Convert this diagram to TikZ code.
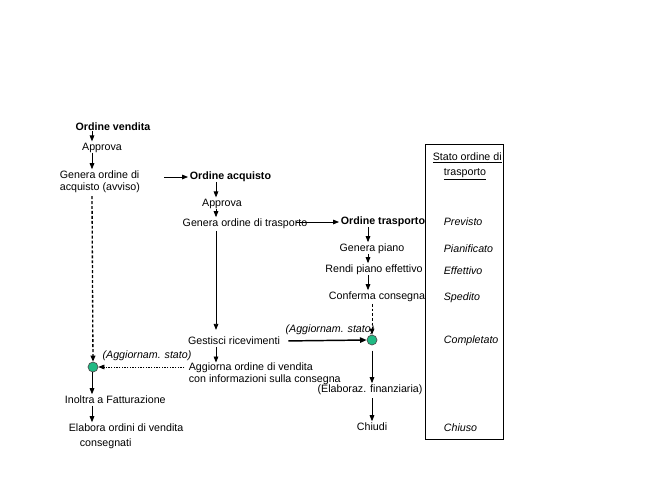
\documentclass[tikz,border=0pt]{standalone}
\usepackage{fontspec}
\setmainfont{Liberation Sans}
\usetikzlibrary{arrows.meta,calc}
\definecolor{dotgreen}{RGB}{32,186,132}
\begin{document}
\begin{tikzpicture}[x=0.75pt,y=-0.75pt,
  every node/.style={font=\fontsize{8pt}{9pt}\selectfont, inner sep=1.2pt},
  bold/.style={font=\fontsize{8pt}{9pt}\selectfont\bfseries},
  ital/.style={font=\fontsize{8pt}{9pt}\selectfont\itshape},
  stlbl/.style={font=\fontsize{8pt}{9pt}\selectfont\itshape, anchor=west},
  arr/.style={-{Triangle[length=4.5pt,width=3.5pt]}, line width=0.6pt},
  sarr/.style={arr, shorten <=-1.5pt},
  thickarr/.style={-{Triangle[length=5pt,width=4pt]}, line width=1.1pt},
  dasharr/.style={-{Triangle[length=4.5pt,width=3.5pt]}, line width=1pt, dash pattern=on 2.2pt off 1.5pt},
  thindash/.style={-{Triangle[length=4.5pt,width=3.5pt]}, line width=0.6pt, dash pattern=on 2pt off 1.5pt},
  dotarr/.style={-{Triangle[length=4.5pt,width=3.5pt]}, line width=0.5pt, dash pattern=on 1pt off 1pt},
  dot/.style={circle, draw=black!70, line width=0.5pt, fill=dotgreen, minimum size=7.5pt, inner sep=0pt}
]
\useasboundingbox (0,0) rectangle (648,486);
\coordinate (c1) at (92,0);
\coordinate (c2) at (216,0);
\coordinate (c3) at (368,0);

% left column
\node[bold] (ov) at (113,127) {Ordine vendita};
\node (ap1) at (102,148) {Approva};
\node[anchor=west, align=left] (goa) at (58,182) {Genera ordine di\\acquisto (avviso)};
\node[dot] (g1) at (93,367) {};
\node[ital] (ag1) at (147,356) {(Aggiornam. stato)};
\node[anchor=west] (inf) at (63,400) {Inoltra a Fatturazione};
\node[anchor=west] (eov) at (67,428) {Elabora ordini di vendita};
\node[anchor=west] (cons) at (78,444) {consegnati};

% middle column
\node[bold, anchor=west] (oa) at (188,177) {Ordine acquisto};
\node (ap2) at (222,204) {Approva};
\node (got) at (245,224) {Genera ordine di trasporto};
\node (gr) at (234,341) {Gestisci ricevimenti};
\node[anchor=west, align=left] (aov) at (187,374) {Aggiorna ordine di vendita\\con informazioni sulla consegna};

% right column
\node[bold, anchor=west] (ot) at (339,222) {Ordine trasporto};
\node (gp) at (372,249) {Genera piano};
\node (rpe) at (374,270) {Rendi piano effettivo};
\node (cc) at (377,297) {Conferma consegna};
\node[dot] (g2) at (372,340) {};
\node[ital] (ag2) at (330,330) {(Aggiornam. stato)};
\node (ef) at (370,390) {(Elaboraz. finanziaria)};
\node (ch) at (372,427) {Chiudi};

% status box
\draw[line width=0.6pt] (425,144) rectangle (503,439);
\node[anchor=west] (st1) at (431,158) {\underline{Stato ordine di}};
\node[anchor=west] (st2) at (442,174) {\underline{trasporto}};
\node[stlbl] (s1) at (442,222) {Previsto};
\node[stlbl] (s2) at (442,249) {Pianificato};
\node[stlbl] (s3) at (442,271) {Effettivo};
\node[stlbl] (s4) at (442,298) {Spedito};
\node[stlbl] (s5) at (442,341) {Completato};
\node[stlbl] (s6) at (442,428) {Chiuso};

% connectors left
\draw[sarr] (ov.south -| c1) -- (ap1.north -| c1);
\draw[sarr] (ap1.south -| c1) -- (goa.north -| c1);
\draw[arr, shorten <=17pt] (goa.east |- oa.west) -- (oa.west);
\draw[dasharr] ([yshift=-1pt]goa.south -| c1) -- (g1.north);
\draw[arr] (g1.south -| c1) -- (inf.north -| c1);
\draw[arr] (inf.south -| c1) -- (eov.north -| c1);
\draw[dotarr] ([xshift=-2pt]aov.west |- g1.east) -- (g1.east);

% connectors middle
\draw[sarr] (oa.south -| c2) -- (ap2.north -| c2);
\draw[sarr] (ap2.south -| c2) -- (got.north -| c2);
\draw[arr] (got.south -| c2) -- ([yshift=4pt]gr.north -| c2);
\draw[arr] (gr.south -| c2) -- ([yshift=-1pt]aov.north -| c2);
\draw[arr] ([xshift=-10pt]got.east |- ot.west) -- (ot.west);

% connectors right
\draw[sarr] (ot.south -| c3) -- (gp.north -| c3);
\draw[sarr] (gp.south -| c3) -- (rpe.north -| c3);
\draw[sarr] (rpe.south -| c3) -- (cc.north -| c3);
\draw[thindash] (cc.south -| g2) -- (g2.north);
\draw[thickarr, shorten <=5pt] (gr.east) -- (g2.west);
\draw[arr, shorten <=4pt] (g2.south) -- (ef.north -| g2);
\draw[arr, shorten <=1pt] (ef.south -| g2) -- (ch.north -| g2);
\end{tikzpicture}
\end{document}
